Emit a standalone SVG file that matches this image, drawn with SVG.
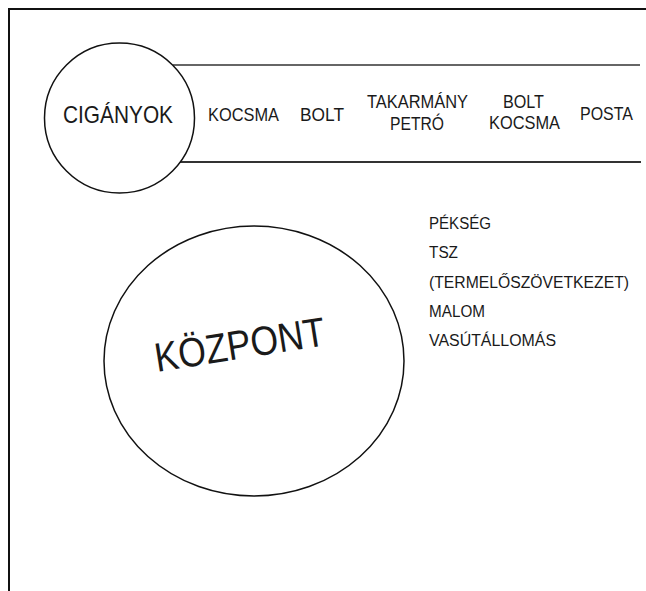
<svg xmlns="http://www.w3.org/2000/svg" width="646" height="591" viewBox="0 0 646 591">
  <style>
    .t { font-family: "Liberation Sans", Arial, sans-serif; fill: #1a1a1a; }
    .top { font-size: 18px; text-anchor: middle; }
    .lst { font-size: 16px; }
    .shape { fill: none; stroke: #111; stroke-width: 1.5; }
    .rule { fill: none; stroke: #333; }
    .frame { fill: none; stroke: #111; stroke-width: 2; }
  </style>
  <rect width="646" height="591" fill="#fff"/>
  <g id="frame">
    <path class="frame" d="M9 591 V9 H646"/>
  </g>
  <g id="connectors">
    <line class="rule" x1="173" y1="65" x2="640" y2="65" stroke-width="1.5"/>
    <line class="rule" x1="180" y1="162" x2="641" y2="162" stroke-width="2"/>
  </g>
  <g id="ciganyok">
    <circle class="shape" cx="119.5" cy="118" r="75"/>
    <text class="t" x="118" y="123" font-size="24" text-anchor="middle" textLength="110" lengthAdjust="spacingAndGlyphs">CIGÁNYOK</text>
  </g>
  <g id="kocsma1">
    <text class="t top" x="243.5" y="121" textLength="71" lengthAdjust="spacingAndGlyphs">KOCSMA</text>
  </g>
  <g id="bolt1">
    <text class="t top" x="322" y="121" textLength="44" lengthAdjust="spacingAndGlyphs">BOLT</text>
  </g>
  <g id="takarmany">
    <text class="t top" x="417.5" y="108" textLength="101" lengthAdjust="spacingAndGlyphs">TAKARMÁNY</text>
    <text class="t top" x="417" y="130" textLength="54" lengthAdjust="spacingAndGlyphs">PETRÓ</text>
  </g>
  <g id="boltkocsma">
    <text class="t top" x="523.5" y="108" textLength="41" lengthAdjust="spacingAndGlyphs">BOLT</text>
    <text class="t top" x="524.5" y="129" textLength="71" lengthAdjust="spacingAndGlyphs">KOCSMA</text>
  </g>
  <g id="posta">
    <text class="t top" x="606.5" y="120" textLength="53" lengthAdjust="spacingAndGlyphs">POSTA</text>
  </g>
  <g id="kozpont">
    <ellipse class="shape" cx="254" cy="361" rx="150" ry="135"/>
    <text class="t" x="242" y="358.5" font-size="41" text-anchor="middle" textLength="172" lengthAdjust="spacingAndGlyphs" transform="rotate(-9 242 358.5)">KÖZPONT</text>
  </g>
  <g id="list">
    <text class="t lst" x="429" y="228.5" textLength="62" lengthAdjust="spacingAndGlyphs">PÉKSÉG</text>
    <text class="t lst" x="429" y="258" textLength="29" lengthAdjust="spacingAndGlyphs">TSZ</text>
    <text class="t lst" x="429" y="287.5" textLength="200" lengthAdjust="spacingAndGlyphs">(TERMELŐSZÖVETKEZET)</text>
    <text class="t lst" x="429" y="316.5" textLength="56" lengthAdjust="spacingAndGlyphs">MALOM</text>
    <text class="t lst" x="429" y="345.5" textLength="127" lengthAdjust="spacingAndGlyphs">VASÚTÁLLOMÁS</text>
  </g>
</svg>
